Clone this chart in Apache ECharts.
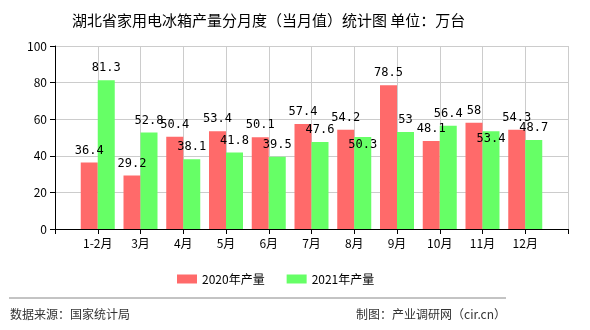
<!DOCTYPE html>
<html><head><meta charset="utf-8">
<script src="https://cdn.jsdelivr.net/npm/echarts@6/dist/echarts.min.js"></script>
<style>html,body{margin:0;padding:0;background:#fff}#c{width:590px;height:330px}</style>
</head><body><div id="c"></div>
<script>
const categories = ['', '1-2月', '3月', '4月', '5月', '6月', '7月', '8月', '9月', '10月', '11月', '12月', ''];
const values2020 = [null, 36.4, 29.2, 50.4, 53.4, 50.1, 57.4, 54.2, 78.5, 48.1, 58, 54.3, null];
const values2021 = [null, 81.3, 52.8, 38.1, 41.8, 39.5, 47.6, 50.3, 53, 56.4, 53.4, 48.7, null];
const seriesNames = ['2020年产量', '2021年产量'];
const yTicks = [0, 20, 40, 60, 80, 100];

const chart = echarts.init(document.getElementById('c'));
const font = '"Noto Sans CJK SC", sans-serif';
const lbl = {show: true, position: 'top', color: '#000', fontSize: 12, fontFamily: '"DejaVu Sans Mono", "Noto Sans CJK SC", monospace', distance: 6};
// labels that the original renderer pushed below the bar top to avoid overlap
const shifted = new Set(['8月', '11月']);
const data2021 = values2021.map((v, i) => shifted.has(categories[i]) ? {value: v, label: {offset: [0, 20]}} : v);
chart.setOption({
  animation: false,
  title: {text: '湖北省家用电冰箱产量分月度（当月值）统计图 单位：万台', left: 67, top: 8,
    textStyle: {fontSize: 15, fontWeight: 'normal', color: '#000', fontFamily: font}},
  legend: {data: seriesNames, left: 172, top: 268, itemWidth: 20, itemHeight: 9, itemGap: 22,
    icon: 'rect', textStyle: {fontSize: 12, color: '#000', fontFamily: font}},
  grid: {left: 55, right: 22, top: 46, bottom: 101},
  xAxis: {type: 'category', data: categories, boundaryGap: false,
    axisLine: {lineStyle: {color: '#000'}}, axisTick: {show: true, lineStyle: {color: '#000'}},
    axisLabel: {color: '#000', fontSize: 12, fontFamily: font, interval: 0},
    splitLine: {show: true, lineStyle: {color: '#ccc'}}},
  yAxis: {type: 'value', min: yTicks[0], max: yTicks[yTicks.length - 1], interval: 20,
    axisLine: {show: true, lineStyle: {color: '#000'}}, axisTick: {show: true, lineStyle: {color: '#000'}},
    axisLabel: {color: '#000', fontSize: 12, fontFamily: font},
    splitLine: {show: true, lineStyle: {color: '#ccc'}}},
  series: [
    {name: seriesNames[0], type: 'bar', data: values2020, barWidth: 17, barGap: '0%',
      itemStyle: {color: '#FF6A6A'}, label: lbl},
    {name: seriesNames[1], type: 'bar', data: data2021, barWidth: 17, barGap: '0%',
      itemStyle: {color: '#66FF66'}, label: lbl}
  ],
  graphic: [
    {type: 'line', shape: {x1: 9, y1: 298, x2: 506, y2: 298}, style: {stroke: '#888', lineWidth: 1}},
    {type: 'text', left: 10, top: 308, style: {text: '数据来源：国家统计局', fill: '#333', font: '12px ' + font}},
    {type: 'text', right: 84, top: 308, style: {text: '制图：产业调研网（cir.cn）', fill: '#333', font: '12px ' + font}}
  ]
});
</script></body></html>
